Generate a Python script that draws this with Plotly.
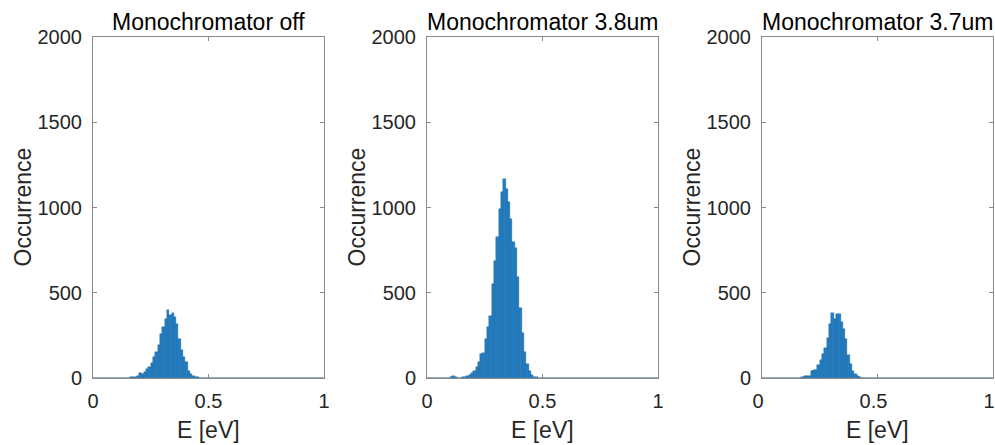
import plotly.graph_objects as go

# Bin left edges (eV), width 0.01
bin_width = 0.01
bin_starts = [round(k * 0.01, 2) for k in range(100)]

titles = ["Monochromator off", "Monochromator 3.8um", "Monochromator 3.7um"]

# counts per bin: dict of bin index -> count (others zero)
counts_off = {5: 1, 7: 1, 9: 2, 11: 1, 13: 2, 14: 1, 15: 2, 16: 3,
              17: 4, 18: 6, 19: 9, 20: 28, 21: 24, 22: 36, 23: 54, 24: 67,
              25: 87, 26: 122, 27: 152, 28: 194, 29: 259, 30: 298, 31: 347,
              32: 396, 33: 372, 34: 380, 35: 360, 36: 317, 37: 229, 38: 164,
              39: 125, 40: 92, 41: 43, 42: 23, 43: 14, 44: 8, 45: 3, 46: 1}
counts_38 = {6: 1, 8: 2, 10: 5, 11: 12, 12: 8, 13: 2, 14: 2, 15: 3, 16: 6,
             17: 12, 18: 20, 19: 32, 20: 42, 21: 65, 22: 92, 23: 140, 24: 145,
             25: 227, 26: 300, 27: 364, 28: 549, 29: 688, 30: 827, 31: 993,
             32: 1090, 33: 1170, 34: 1110, 35: 1030, 36: 930, 37: 800,
             38: 760, 39: 592, 40: 410, 41: 266, 42: 150, 43: 85, 44: 41,
             45: 18, 46: 6, 47: 3, 48: 1}
counts_37 = {6: 1, 9: 1, 12: 1, 14: 1, 16: 2, 17: 3, 18: 10, 19: 12, 20: 14,
             21: 44, 22: 46, 23: 48, 24: 75, 25: 105, 26: 142, 27: 176,
             28: 234, 29: 318, 30: 384, 31: 347, 32: 376, 33: 376, 34: 330,
             35: 288, 36: 230, 37: 135, 38: 84, 39: 44, 40: 24, 41: 14,
             42: 5, 43: 2, 44: 1}

all_counts = [counts_off, counts_38, counts_37]

y_ticks = [0, 500, 1000, 1500, 2000]
x_ticks = [0, 0.5, 1]
x_tick_labels = ["0", "0.5", "1"]

W, H = 995, 445
x_domains = [(93 / W, 324 / W), (427 / W, 658 / W), (762 / W, 993 / W)]
y_domain = ((H - 378) / H, (H - 37) / H)

fig = go.Figure()
font_family = "Liberation Sans, Arial, sans-serif"
axis_color = "#8a8a8a"
text_color = "#262626"

for i, cdict in enumerate(all_counts):
    xs = [b + bin_width / 2 for b in bin_starts]
    ys = [cdict.get(k, 0) for k in range(len(bin_starts))]
    xa = "x" if i == 0 else f"x{i+1}"
    ya = "y" if i == 0 else f"y{i+1}"
    fig.add_trace(go.Bar(
        x=xs, y=ys, width=bin_width,
        marker=dict(color="rgb(32,128,200)", line=dict(color="rgb(20,85,140)", width=0.4)),
        xaxis=xa, yaxis=ya, showlegend=False,
    ))
    common = dict(showline=True, linecolor=axis_color, linewidth=1, mirror="ticks",
                  ticks="inside", ticklen=4, tickcolor=axis_color, showgrid=False,
                  zeroline=False, automargin=False, ticklabeloverflow="allow",
                  tickfont=dict(family=font_family, size=20, color=text_color))
    fig.update_layout(**{
        ("xaxis" if i == 0 else f"xaxis{i+1}"): dict(
            domain=x_domains[i], range=[0, 1], tickvals=x_ticks, ticktext=x_tick_labels,
            anchor=ya, ticklabelstandoff=5, ticklabelshift=(-4 if i == 2 else 0), **common),
        ("yaxis" if i == 0 else f"yaxis{i+1}"): dict(
            domain=y_domain, range=[0, 2000], tickvals=y_ticks, anchor=xa,
            ticklabelstandoff=6, **common),
    })
    cx = (x_domains[i][0] + x_domains[i][1]) / 2
    fig.add_annotation(text=titles[i], xref="paper", yref="paper", x=cx, y=y_domain[1],
                       xanchor="center", yanchor="bottom", yshift=0, showarrow=False,
                       font=dict(family=font_family, size=23, color="#000000"))
    fig.add_annotation(text="E [eV]", xref="paper", yref="paper", x=cx, y=(H - 430) / H,
                       xanchor="center", yanchor="middle", showarrow=False,
                       font=dict(family=font_family, size=23, color=text_color))
    fig.add_annotation(text="Occurrence", xref="paper", yref="paper",
                       x=(x_domains[i][0] * W - 71) / W, y=(y_domain[0] + y_domain[1]) / 2,
                       xanchor="center", yanchor="middle", textangle=-90, showarrow=False,
                       font=dict(family=font_family, size=23, color=text_color))

fig.update_layout(width=W, height=H, margin=dict(l=0, r=0, t=0, b=0, autoexpand=False),
                  paper_bgcolor="white", plot_bgcolor="white", bargap=0)

fig.write_html("out.html")
